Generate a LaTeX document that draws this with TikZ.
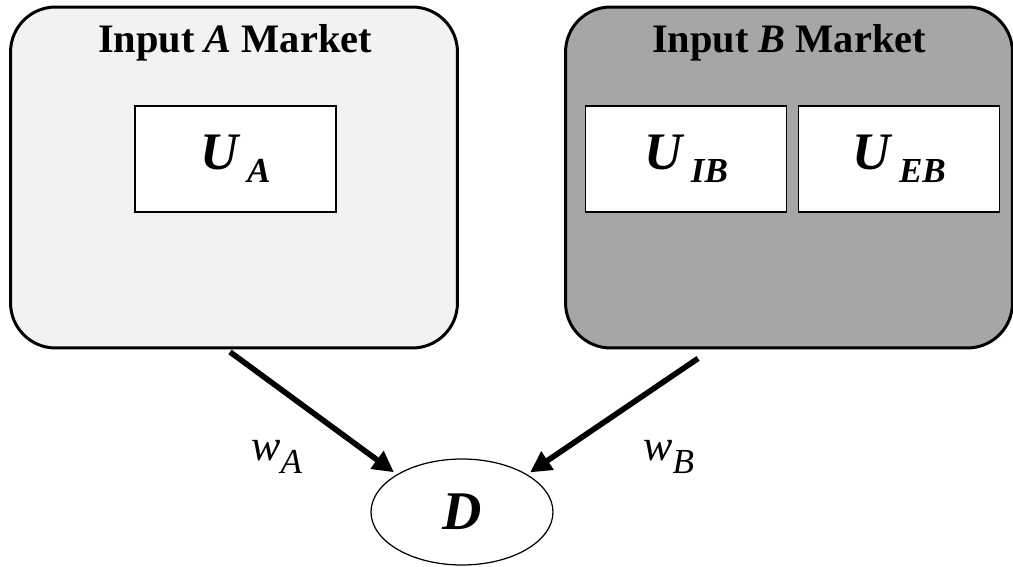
\documentclass[tikz,border=0pt]{standalone}
\usepackage{fontspec}
\setmainfont{Liberation Serif}
\usetikzlibrary{shapes.geometric,arrows.meta}
\definecolor{lgray}{HTML}{F2F2F2}
\definecolor{dgray}{HTML}{A6A6A6}
\newcommand{\lowsub}[1]{\raisebox{-7.5pt}{\fontsize{20}{20}\selectfont #1}}
\begin{document}
\begin{tikzpicture}[x=0.02cm,y=-0.02cm,
 mkt/.style={draw,line width=1.7pt,rounded corners=0.9cm,minimum width=8.94cm,minimum height=6.82cm},
 ttl/.style={anchor=base,font=\fontsize{23}{23}\selectfont\bfseries},
 ubox/.style={draw,fill=white,line width=0.85pt,minimum width=4.02cm,minimum height=2.12cm,font=\fontsize{30}{30}\selectfont\bfseries\itshape},
 wlbl/.style={anchor=base west,font=\fontsize{25}{25}\selectfont\itshape},
 arr/.style={line width=3.2pt,-{Triangle[length=12pt,width=12pt]},shorten >=2pt}]
 \useasboundingbox (0,0) rectangle (1013,567);

 %Markets
 \node[mkt,fill=lgray] (mktA) at (234,177.5) {};
 \node[mkt,fill=dgray] (mktB) at (789,177.5) {};
 \node[ttl] (ttlA) at (235,53) {Input \textit{A} Market};
 \node[ttl] (ttlB) at (789,53) {Input \textit{B} Market};

 %Boxes
 \node[ubox] (UA) at (235.5,159) {U\,\lowsub{A}};
 \node[ubox] (UIB) at (686,159) {U\,\lowsub{IB}};
 \node[ubox] (UEB) at (899,159) {U\,\lowsub{EB}};

 %Downstream
 \node[ellipse,draw,line width=0.7pt,minimum width=3.64cm,minimum height=2.12cm,font=\fontsize{31}{31}\selectfont\bfseries\itshape] (D) at (462,512) {D};

 %Arrows
 \draw[arr] ([xshift=-0.08cm,yshift=-0.05cm]mktA.south) -- (D.150);
 \draw[arr] ([xshift=-1.82cm,yshift=-0.18cm]mktB.south) -- (D.30);
 \node[wlbl] (wA) at (245,460) {w\lowsub{A}};
 \node[wlbl] (wB) at (637,460) {w\lowsub{B}};

\end{tikzpicture}
\end{document}
